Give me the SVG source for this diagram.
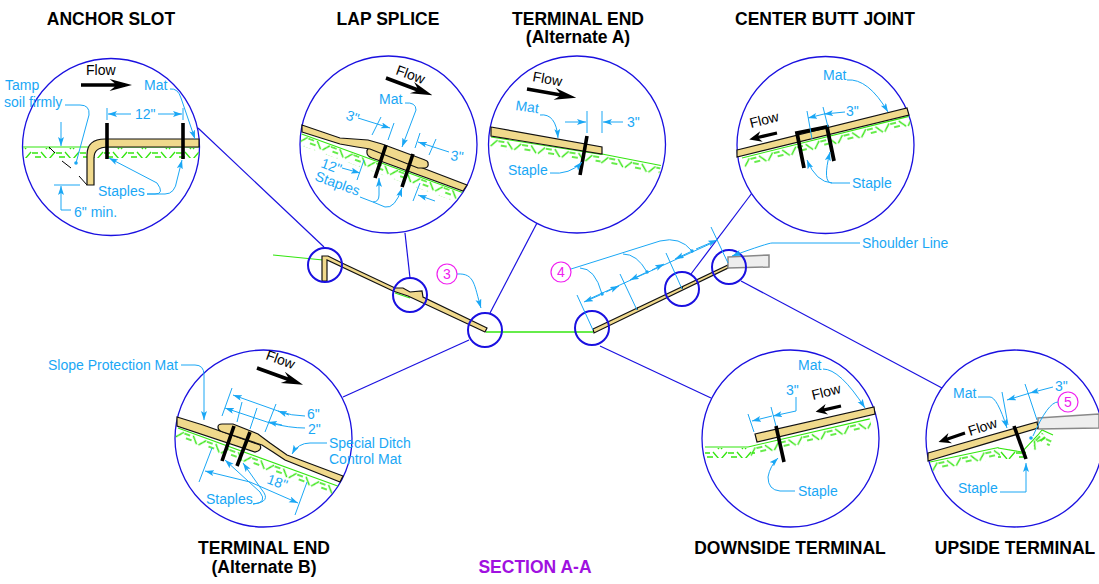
<svg xmlns="http://www.w3.org/2000/svg" xmlns:xlink="http://www.w3.org/1999/xlink" width="1099" height="584" viewBox="0 0 1099 584">
<style>
text{font-family:"Liberation Sans",Arial,sans-serif}
.h{font-size:17.5px;font-weight:bold;fill:#000;text-anchor:middle}
.s{font-size:17.5px;font-weight:bold;fill:#a010e0;text-anchor:middle}
.t{font-size:14px;fill:#1aa7f5}
.f{font-size:14px;fill:#000}
.ref{font-size:14px;fill:#f020f0;text-anchor:middle}
.c{fill:#fff;stroke:#1a10e0;stroke-width:1.3}
.sc{fill:none;stroke:#1a10e0;stroke-width:2}
.l{fill:none;stroke:#1a10e0;stroke-width:1.2}
.m{fill:#f0d98c;stroke:#111;stroke-width:1.2}
.st{fill:none;stroke:#000;stroke-width:3.6}
.d{fill:none;stroke:#1aa7f5;stroke-width:1}
.a{fill:none;stroke:#1aa7f5;stroke-width:1;marker-end:url(#ah)}
.g{stroke:#33e60f;stroke-width:1.1;fill:none}
.gh{fill:url(#hatch)}
.rc{fill:#fff;stroke:#f020f0;stroke-width:1.2}
.sh{fill:#eee;stroke:#888;stroke-width:1.5}
</style>
<defs>
<marker id="ah" markerUnits="userSpaceOnUse" markerWidth="10" markerHeight="8" refX="9" refY="3" orient="auto"><path d="M0,0 L9,3 L0,6 L2,3Z" fill="#1aa7f5"/></marker>
<pattern id="hatch" patternUnits="userSpaceOnUse" width="24" height="10"><path d="M1,9 L7,2 M8,3 H14 M11,7 H17 M17,2 L23,9" stroke="#33e60f" stroke-width="1.3" fill="none"/></pattern>
<path id="flow" d="M0,-1.8 H33 L28,-6 L50,0 L28,6 L33,1.8 H0Z" fill="#000"/>
<clipPath id="c1"><circle cx="111" cy="147" r="88"/></clipPath>
<clipPath id="c2"><circle cx="388.5" cy="144.5" r="88"/></clipPath>
<clipPath id="c3"><circle cx="577" cy="144.5" r="88"/></clipPath>
<clipPath id="c4"><circle cx="825.5" cy="145" r="88"/></clipPath>
<clipPath id="c5"><circle cx="263.5" cy="438.5" r="88"/></clipPath>
<clipPath id="c6"><circle cx="790.5" cy="438.5" r="88"/></clipPath>
<clipPath id="c7"><circle cx="1014.5" cy="438.5" r="88"/></clipPath>
</defs>

<g id="connectors">
<path class="l" d="M198,128L324,247"/>
<path class="l" d="M405,233L410,278"/>
<path class="l" d="M537,223L490,313"/>
<path class="l" d="M343,397L469,340"/>
<path class="l" d="M600,346L711,398"/>
<path class="l" d="M752,193L691,274"/>
<path class="l" d="M942,388L741,281"/>
</g>

<g id="section">
<path class="g" d="M273,255L323,260"/>
<path d="M395,293L410,298" class="g"/>
<path d="M486,332H593" stroke="#33e60f" stroke-width="1.4" fill="none"/>
<path class="m" d="M322,281V256H328L342,263L395,288L403,288L410,292L422,291L423,297L487,328L485,332L408,296L393,291L327,260V281Z"/>
<path class="m" d="M593,329L728,265V268L594,333Z"/>
<path d="M637,310l1,-3M682,289l1,-3" stroke="#222" fill="none"/>
<path class="sh" d="M728,257L769,255V267L728,268Z"/>
<circle class="sc" cx="325" cy="265" r="17"/>
<circle class="sc" cx="410" cy="295" r="17"/>
<circle class="sc" cx="485" cy="330" r="17"/>
<circle class="sc" cx="592" cy="328" r="17"/>
<circle class="sc" cx="682" cy="289" r="17"/>
<circle class="sc" cx="729" cy="267" r="17"/>
<g id="ref3"><path class="a" d="M457,274C475,273 474,285 481,308"/><circle class="rc" cx="447" cy="274" r="10"/><text class="ref" x="447" y="279">3</text></g>
<g id="ref4">
<path class="d" d="M577,295L593,330M620,274L637,310M666,253L682,289M711,227L728,263"/>
<path class="d" d="M587,300L712,243"/>
<path class="a" d="M600,295L584,302"/>
<path class="a" d="M606,292L619,286"/>
<path class="a" d="M645,273L630,280"/>
<path class="a" d="M652,270L664,264"/>
<path class="a" d="M690,252L675,259"/>
<path class="a" d="M696,249L717,240"/>
<path class="d" d="M571,269L660,241Q680,236 692,251M623,254Q637,254 647,272M580,268Q595,268 602,294"/>
<circle cx="602" cy="294" r="1.8" fill="#1aa7f5"/><circle cx="647" cy="272" r="1.8" fill="#1aa7f5"/><circle cx="692" cy="251" r="1.8" fill="#1aa7f5"/>
<circle class="rc" cx="561" cy="272" r="10"/><text class="ref" x="561" y="277">4</text>
</g>
<g id="shoulder-line"><path class="a" d="M860,243H772Q768,243 732,256"/><text class="t" x="862" y="248">Shoulder Line</text></g>
</g>

<g id="anchor-slot">
<text class="h" x="111" y="25">ANCHOR SLOT</text>
<circle class="c" cx="111" cy="147" r="88.5"/>
<g clip-path="url(#c1)">
<rect class="gh" x="23" y="148" width="176" height="10"/>
<path class="g" d="M23,147H199"/>
</g>
<path d="M49,147L55,153M62,161L71,168M79,176L87,185" stroke="#000" fill="none"/>
<path class="m" d="M87,185V155Q87,139 105,139H199V147H108Q94,147 94,158V185Z"/>
<path class="st" d="M107,123V159M183,123V159"/>
<use xlink:href="#flow" transform="translate(81,85) scale(1.02,1)"/>
<text class="f" x="86" y="75">Flow</text>
<text class="t" x="144" y="90">Mat</text>
<path class="a" d="M170,89Q178,88 181,98L195,139"/>
<path class="d" d="M107,108V120M183,108V120"/>
<path class="a" d="M131,114H108"/><path class="a" d="M158,114H182"/>
<text class="t" x="135" y="119">12"</text>
<text class="t" x="5" y="90">Tamp</text>
<text class="t" x="4" y="107">soil firmly</text>
<path class="d" d="M65,105H80Q90,105 89,115L76,163"/><circle cx="76" cy="163" r="1.8" fill="#1aa7f5"/>
<path class="a" d="M61,122V146"/>
<path class="d" d="M54,185H80"/>
<path class="a" d="M71,210H61V186"/>
<text class="t" x="74" y="217">6" min.</text>
<text class="t" x="98" y="196">Staples</text>
<path class="a" d="M147,194H155Q165,194 157,183L109,158"/>
<path class="a" d="M147,194H165Q175,194 177,180L182,160"/>
</g>

<g id="lap-splice">
<text class="h" x="388" y="25">LAP SPLICE</text>
<circle class="c" cx="388.5" cy="144.5" r="88.5"/>
<g clip-path="url(#c2)">
<g transform="translate(302,133) rotate(20)"><path class="g" d="M0,1H185"/><rect class="gh" x="0" y="2" width="185" height="10"/></g>
</g>
<path class="m" d="M372,147Q366,148 367,153Q367,156 372,158L463,191L467,185L420,167L380,150Z"/>
<path class="m" d="M302,132L340,144L357,147L370,149L418,168L425,168Q429,167 428,163Q428,161 425,160L382,144L368,140L340,138L302,125Z"/>
<path class="st" d="M386,145L375,178M413,154L402,187"/>
<use xlink:href="#flow" transform="translate(386,78) rotate(20.5) scale(.99,1)"/>
<text class="f" transform="translate(395,74) rotate(20)">Flow</text>
<text class="t" x="379" y="104">Mat</text>
<path class="a" d="M405,103Q416,102 416,110L402,147"/>
<text class="t" transform="translate(345,119) rotate(20)">3"</text>
<path class="d" d="M372,135L381,117M388,140L394,123M415,148L420,133M429,155L436,139M357,180L364,160M413,201L420,183"/>
<path class="a" d="M358,118L390,128"/>
<path class="a" d="M449,152L418,142"/>
<text class="t" x="450" y="160" transform="rotate(8 450 160)">3"</text>
<path class="a" d="M435,201L418,195"/>
<text class="t" transform="translate(320,167) rotate(20)">12"</text>
<path class="a" d="M342,168L360,173"/>
<text class="t" transform="translate(314,180) rotate(20)">Staples</text>
<path class="a" d="M360,197L373,202Q379,202 379,195V178"/>
<path class="a" d="M373,202L385,207Q395,209 402,188"/>
</g>

<g id="terminal-end-a">
<text class="h" x="578" y="25">TERMINAL END</text>
<text class="h" x="578" y="43">(Alternate A)</text>
<circle class="c" cx="577" cy="144.5" r="88.5"/>
<g clip-path="url(#c3)">
<g transform="translate(491,137) rotate(9)"><path class="g" d="M0,0H112"/><rect class="gh" x="0" y="1" width="112" height="10"/></g>
<g transform="translate(602,154) rotate(11)"><path class="g" d="M0,0H60"/><rect class="gh" x="0" y="1" width="60" height="10"/></g>
</g>
<path class="m" d="M491,127L602,147V154L491,136Z"/>
<path class="st" d="M587,136L580,175"/>
<use xlink:href="#flow" transform="translate(527,89) rotate(10)"/>
<text class="f" transform="translate(532,81) rotate(10)">Flow</text>
<text class="t" transform="translate(515,110) rotate(8)">Mat</text>
<path class="a" d="M540,115Q556,113 558,138"/>
<path class="d" d="M587,111V133M602,111V133"/>
<path class="a" d="M565,122H586"/><path class="a" d="M623,122H603"/>
<text class="t" x="627" y="127">3"</text>
<text class="t" x="508" y="175">Staple</text>
<path class="a" d="M550,173Q570,175 582,162"/>
</g>

<g id="center-butt-joint">
<text class="h" x="825" y="25">CENTER BUTT JOINT</text>
<circle class="c" cx="825.5" cy="145" r="88.5"/>
<g clip-path="url(#c4)">
<g transform="translate(742,158) rotate(-14)"><path class="g" d="M0,0H172"/><rect class="gh" x="0" y="1" width="172" height="10"/></g>
</g>
<path class="m" d="M737,150L907,108L909,115L737,157Z"/>
<path fill="none" stroke="#000" stroke-width="3.8" d="M804,168L797,133L827,127L834,161"/>
<use xlink:href="#flow" transform="translate(777,133) rotate(167) scale(.57,.9)"/>
<text class="f" transform="translate(751,128) rotate(-14)">Flow</text>
<text class="t" x="823" y="80">Mat</text>
<path class="a" d="M847,80Q868,78 888,112"/>
<path class="d" d="M807,111L812,139M823,107L828,127"/>
<path class="a" d="M824,114L808,118"/><path class="a" d="M845,112L824,114"/>
<text class="t" x="846" y="116">3"</text>
<text class="t" x="852" y="188">Staple</text>
<path class="a" d="M850,183H832Q822,183 830,152"/>
<path class="a" d="M832,183Q816,182 807,160"/>
</g>

<g id="terminal-end-b">
<text class="h" x="264" y="554">TERMINAL END</text>
<text class="h" x="264" y="573">(Alternate B)</text>
<circle class="c" cx="263.5" cy="438.5" r="88.5"/>
<g clip-path="url(#c5)">
<g transform="translate(178,428) rotate(20)"><path class="g" d="M0,0H175"/><rect class="gh" x="0" y="1" width="175" height="10"/></g>
</g>
<path class="m" d="M177,417L203,425L260,445Q262,449 258,451L255,452L177,426Z"/>
<path class="m" d="M218,427Q218,424 222,424H233L258,434L270,443L287,455L343,476L340,482L285,460L273,452L262,445L223,432Q218,431 218,427Z"/>
<path class="st" d="M234,426L222,461M250,432L237,466"/>
<use xlink:href="#flow" transform="translate(257,368) rotate(20) scale(.98,1)"/>
<text class="f" transform="translate(265,359) rotate(20)">Flow</text>
<text class="t" x="48" y="370">Slope Protection Mat</text>
<path class="a" d="M181,365H195Q204,365 204,375V420"/>
<path class="d" d="M232,388L222,416M276,404L265,432M242,402L237,422M257,408L250,429M212,448L199,482M307,482L295,515"/>
<path class="a" d="M305,416Q292,416 278,411L233,395"/>
<path class="a" d="M289,415L278,411"/>
<path class="a" d="M305,428Q290,428 270,423L225,408"/>
<path class="a" d="M282,425L268,422"/>
<text class="t" x="307" y="419">6"</text>
<text class="t" x="308" y="434">2"</text>
<text class="t" x="329" y="448">Special Ditch</text>
<text class="t" x="329" y="464">Control Mat</text>
<path class="a" d="M327,443H310Q298,443 292,454"/>
<path class="a" d="M250,482L205,471"/>
<path class="a" d="M250,482L298,503"/>
<text class="t" transform="translate(266,483) rotate(20)">18"</text>
<text class="t" x="206" y="504">Staples</text>
<path class="a" d="M253,504Q268,503 260,492L225,460"/>
<path class="a" d="M253,504Q272,502 262,490L243,463"/>
</g>

<g id="downside-terminal">
<text class="h" x="790" y="554">DOWNSIDE TERMINAL</text>
<circle class="c" cx="790.5" cy="438.5" r="88.5"/>
<g clip-path="url(#c6)">
<path class="g" d="M705,447H748"/><rect class="gh" x="705" y="448" width="50" height="10"/>
<g transform="translate(748,447) rotate(-13)"><path class="g" d="M0,0H125"/><rect class="gh" x="0" y="1" width="125" height="10"/></g>
</g>
<path class="m" d="M755,434L874,407L875,414L757,442Z"/>
<path class="st" d="M776,426L784,462"/>
<use xlink:href="#flow" transform="translate(841,406) rotate(167) scale(.52,.9)"/>
<text class="f" transform="translate(813,400) rotate(-14)">Flow</text>
<text class="t" x="798" y="370">Mat</text>
<path class="a" d="M823,369Q840,369 865,408"/>
<path class="d" d="M748,414L754,432M771,407L776,426"/>
<path class="a" d="M772,416L752,421"/>
<path class="a" d="M796,397V411L773,416"/>
<text class="t" x="786" y="395">3"</text>
<text class="t" x="798" y="496">Staple</text>
<path class="a" d="M795,491H780Q768,490 768,477Q770,466 778,458"/>
</g>

<g id="upside-terminal">
<text class="h" x="1015" y="554">UPSIDE TERMINAL</text>
<circle class="c" cx="1014.5" cy="438.5" r="88.5"/>
<g clip-path="url(#c7)">
<g transform="translate(930,462) rotate(-12)"><path class="g" d="M0,0H70"/><rect class="gh" x="0" y="1" width="70" height="10"/></g>
<path class="g" d="M998,448L1022,452L1038,435L1042,430L1053,435"/>
<rect class="gh" x="998" y="449" width="28" height="10"/>
<g transform="translate(1028,444) rotate(-45)"><rect class="gh" x="0" y="1" width="18" height="10"/></g>
<g transform="translate(1040,433) rotate(25)"><rect class="gh" x="0" y="1" width="14" height="10"/></g>
</g>
<path class="sh" d="M1038,418L1099,414V428L1038,429Z"/>
<path class="m" d="M928,453L1037,422L1038,428L928,461Z"/>
<path class="st" d="M1014,426L1026,459"/>
<use xlink:href="#flow" transform="translate(965,433) rotate(161) scale(.56,.9)"/>
<text class="f" transform="translate(970,436) rotate(-18)">Flow</text>
<text class="t" x="953" y="398">Mat</text>
<path class="a" d="M978,397H990Q997,397 1007,428"/>
<path class="d" d="M1002,392L1008,425M1025,384L1037,420"/>
<path class="a" d="M1030,393L1007,400"/>
<path class="a" d="M1053,387L1030,393"/>
<text class="t" x="1055" y="391">3"</text>
<circle class="rc" cx="1068" cy="402" r="10"/><text class="ref" x="1068" y="407">5</text>
<path class="d" d="M1058,402Q1048,402 1033,436"/><circle cx="1031" cy="438" r="1.8" fill="#1aa7f5"/>
<text class="t" x="958" y="493">Staple</text>
<path class="a" d="M1000,492H1026V463"/>
</g>

<text id="section-title" class="s" x="535" y="573">SECTION A-A</text>
</svg>
